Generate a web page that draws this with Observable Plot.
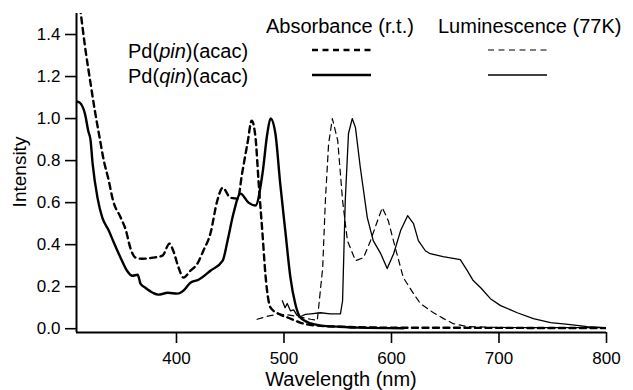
<!DOCTYPE html>
<html>
<head>
<meta charset="utf-8">
<script src="https://cdn.jsdelivr.net/npm/d3@7"></script>
<script src="https://cdn.jsdelivr.net/npm/@observablehq/plot@0.6"></script>
<style>
  html, body { margin: 0; padding: 0; background: #fff; }
  #wrap { position: relative; width: 633px; height: 390px; font-family: "Liberation Sans", Arial, sans-serif; }
  #legend { position: absolute; left: 0; top: 0; pointer-events: none; }
</style>
</head>
<body>
<div id="wrap"></div>
<script>
// ---- data ----
const xDomain = [307, 800];
const yDomain = [-0.018, 1.5];
const xTicks = [400, 500, 600, 700, 800];
const yTicks = [0, 0.2, 0.4, 0.6, 0.8, 1.0, 1.2, 1.4];
const xLabel = "Wavelength (nm)";
const yLabel = "Intensity";

// Absorbance (r.t.) Pd(pin)(acac) — dashed, thick
const absPinWl  = [309, 311, 315, 320, 324, 329, 332, 337, 341, 348, 353, 357, 362, 368, 378, 387, 393.5, 397, 402, 406.5, 413, 419.5, 425, 431.5, 438, 443, 450, 457, 461, 466, 470, 473.5, 476.5, 480, 483, 487.5, 495, 506, 515, 530, 560, 600, 700, 800];
const absPinVal = [1.58, 1.50, 1.34, 1.17, 1.04, 0.895, 0.81, 0.705, 0.61, 0.53, 0.467, 0.386, 0.338, 0.333, 0.338, 0.348, 0.405, 0.371, 0.29, 0.243, 0.276, 0.31, 0.371, 0.452, 0.61, 0.671, 0.624, 0.619, 0.738, 0.881, 0.99, 0.91, 0.69, 0.452, 0.243, 0.10, 0.071, 0.048, 0.029, 0.015, 0.008, 0.005, 0.004, 0.003];

// Absorbance (r.t.) Pd(qin)(acac) — solid, thick
const absQinWl  = [308, 310, 315, 318, 320, 322, 326.5, 331, 337, 341, 348, 354, 359, 364, 366.5, 371, 378, 383, 392, 401, 406.5, 413, 420.5, 431.5, 443, 447.5, 453, 459.5, 467, 473.5, 480, 484.5, 487.5, 492, 496.5, 501.5, 506, 510.5, 515, 525, 535, 550, 570, 611];
const absQinVal = [1.08, 1.076, 1.02, 0.94, 0.90, 0.786, 0.624, 0.529, 0.467, 0.419, 0.338, 0.276, 0.252, 0.257, 0.214, 0.195, 0.171, 0.162, 0.171, 0.167, 0.181, 0.219, 0.233, 0.276, 0.324, 0.419, 0.548, 0.643, 0.60, 0.586, 0.738, 0.929, 1.0, 0.929, 0.69, 0.452, 0.243, 0.119, 0.055, 0.025, 0.015, 0.01, 0.005, 0.002];

// Luminescence (77K) Pd(pin)(acac) — dashed, thin
const lumPinWl  = [475, 485, 495, 505, 515, 525, 531, 536, 538.5, 541.5, 545, 550, 554.5, 559, 566.5, 574, 580.5, 587, 591.5, 597, 603.5, 611, 620.5, 627, 639, 648.5, 657.5, 670.5, 700, 750, 800];
const lumPinVal = [0.045, 0.06, 0.07, 0.065, 0.055, 0.045, 0.04, 0.29, 0.61, 0.88, 1.0, 0.895, 0.61, 0.419, 0.324, 0.338, 0.419, 0.514, 0.576, 0.514, 0.386, 0.243, 0.167, 0.119, 0.076, 0.048, 0.024, 0.01, 0.006, 0.005, 0.005];

// Luminescence (77K) Pd(qin)(acac) — solid, thin
const lumQinWl  = [498.5, 501, 503, 506, 509, 512, 515, 520, 525, 534, 543, 552.5, 554.5, 557, 560, 563.5, 566.5, 571, 577.5, 583, 590, 596, 602, 608.5, 615, 620.5, 625, 631.5, 636, 648, 664, 670.5, 676, 683, 692, 701.5, 717, 732, 748, 766.5, 782, 800];
const lumQinVal = [0.133, 0.10, 0.12, 0.085, 0.09, 0.065, 0.057, 0.068, 0.071, 0.076, 0.071, 0.071, 0.133, 0.61, 0.929, 1.0, 0.957, 0.767, 0.529, 0.419, 0.357, 0.286, 0.357, 0.467, 0.538, 0.50, 0.419, 0.371, 0.357, 0.343, 0.329, 0.276, 0.229, 0.195, 0.143, 0.11, 0.076, 0.048, 0.029, 0.019, 0.01, 0.005];

const toRows = (wl, v) => wl.map((w, i) => ({wl: w, v: v[i]}));
const absPin = toRows(absPinWl, absPinVal);
const absQin = toRows(absQinWl, absQinVal);
const lumPin = toRows(lumPinWl, lumPinVal);
const lumQin = toRows(lumQinWl, lumQinVal);

const DASH = "6,4.5";
const chart = Plot.plot({
  width: 633,
  height: 390,
  marginLeft: 76,
  marginRight: 27,
  marginTop: 13,
  marginBottom: 58,
  style: {fontFamily: "'Liberation Sans', Arial, sans-serif", fontSize: "17px", color: "#000", background: "#fff"},
  x: {domain: xDomain},
  y: {domain: yDomain},
  marks: [
    Plot.axisY({ticks: yTicks, tickFormat: d3.format(".1f"), tickSize: 11, tickPadding: 5, strokeWidth: 1.6,
      fontSize: 17, label: null}),
    Plot.axisX({ticks: xTicks, tickFormat: d3.format("d"), tickSize: 11, tickPadding: 8, strokeWidth: 1.6,
      fontSize: 17, label: null}),
    Plot.ruleX([xDomain[0]], {stroke: "#000", strokeWidth: 2}),
    Plot.ruleY([yDomain[0]], {stroke: "#000", strokeWidth: 2}),
    Plot.line(lumPin, {x: "wl", y: "v", stroke: "#000", strokeWidth: 1.2, strokeDasharray: DASH, clip: true}),
    Plot.line(lumQin, {x: "wl", y: "v", stroke: "#000", strokeWidth: 1.3, clip: true}),
    Plot.line(absPin, {x: "wl", y: "v", stroke: "#000", strokeWidth: 2.4, strokeDasharray: DASH, curve: "monotone-x", clip: true}),
    Plot.line(absQin, {x: "wl", y: "v", stroke: "#000", strokeWidth: 2.4, curve: "monotone-x", clip: true})
  ]
});
const wrap = document.getElementById("wrap");
wrap.appendChild(chart);

// ---- legend and axis titles overlay ----
const NS = "http://www.w3.org/2000/svg";
const leg = document.createElementNS(NS, "svg");
leg.setAttribute("id", "legend");
leg.setAttribute("width", 633);
leg.setAttribute("height", 390);
leg.innerHTML = `
  <g font-family="'Liberation Sans', Arial, sans-serif" font-size="20" fill="#000">
    <text x="266" y="33">Absorbance (r.t.)</text>
    <text x="438" y="33">Luminescence (77K)</text>
    <text x="128" y="58">Pd(<tspan font-style="italic">pin</tspan>)(acac)</text>
    <text x="128" y="83">Pd(<tspan font-style="italic">qin</tspan>)(acac)</text>
    <text x="341" y="386" text-anchor="middle">${xLabel}</text>
    <text transform="translate(26,172) rotate(-90)" text-anchor="middle" font-size="19">${yLabel}</text>
  </g>
  <g stroke="#000" fill="none">
    <line x1="312" x2="371" y1="50" y2="50" stroke-width="2.4" stroke-dasharray="${DASH}"/>
    <line x1="312" x2="371" y1="75" y2="75" stroke-width="2.4"/>
    <line x1="488" x2="547" y1="50" y2="50" stroke-width="1.2" stroke-dasharray="${DASH}"/>
    <line x1="488" x2="547" y1="75" y2="75" stroke-width="1.3"/>
  </g>`;
wrap.appendChild(leg);
</script>
</body>
</html>
